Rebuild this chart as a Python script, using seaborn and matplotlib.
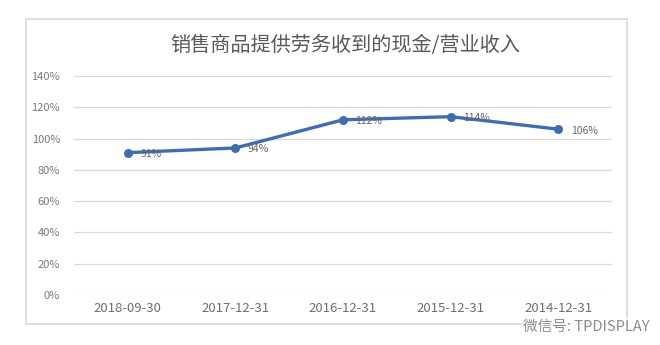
import matplotlib
matplotlib.use("Agg")
import matplotlib.pyplot as plt
import seaborn as sns
import pandas as pd
from matplotlib.patches import Rectangle

categories = ["2018-09-30", "2017-12-31", "2016-12-31", "2015-12-31", "2014-12-31"]
values = [0.91, 0.94, 1.12, 1.14, 1.06]
labels = ["91%", "94%", "112%", "114%", "106%"]
yticks = [0, 0.2, 0.4, 0.6, 0.8, 1.0, 1.2, 1.4]
ytick_labels = ["0%", "20%", "40%", "60%", "80%", "100%", "120%", "140%"]
title = "销售商品提供劳务收到的现金/营业收入"
watermark = "微信号: TPDISPLAY"

sns.set_theme(style="white")
plt.rcParams['font.family'] = ['Noto Sans CJK SC', 'DejaVu Sans']

W, H = 660, 345
fig = plt.figure(figsize=(6.6, 3.45), dpi=100)
ax = fig.add_axes([74 / W, 1 - 295 / H, (612 - 74) / W, (295 - 76) / H])

df = pd.DataFrame({"x": list(range(len(categories))), "y": values})
line_color = "#3F6DB3"
sns.lineplot(data=df, x="x", y="y", ax=ax, color=line_color, linewidth=2.4,
             marker="o", markersize=6.5, markeredgewidth=0, markerfacecolor=line_color)

for xi, yi, lab in zip(df["x"], df["y"], labels):
    ax.annotate(lab, (xi, yi), xytext=(9, -1), textcoords="offset points",
                ha="left", va="center", fontsize=7.5, color="#666666")

ax.set_xlim(-0.5, 4.5)
ax.set_ylim(0, 1.4)
ax.set_yticks(yticks)
ax.set_yticklabels(ytick_labels)
ax.set_xticks(range(len(categories)))
ax.set_xticklabels(categories)
ax.tick_params(axis="y", labelsize=8, colors="#7A7A7A", length=0, pad=10)
ax.tick_params(axis="x", labelsize=9.5, colors="#6E6E6E", length=0, pad=5)
ax.set_xlabel("")
ax.set_ylabel("")
ax.grid(axis="y", color="#D9D9D9", linewidth=0.9)
ax.set_axisbelow(True)
for s in ax.spines.values():
    s.set_visible(False)

# outer chart border
fig.patches.append(Rectangle((26 / W, 1 - 324 / H), (627 - 26) / W, (324 - 19) / H,
                             transform=fig.transFigure, fill=False,
                             edgecolor="#D9D9D9", linewidth=1.2))

fig.text(345 / W, 1 - 45 / H, title, ha="center", va="center",
         fontsize=14.5, color="#595959")

fig.text(650 / W, 1 - 327 / H, watermark, ha="right", va="center",
         fontsize=10.5, color="#8C8C8C",
         bbox=dict(boxstyle="round,pad=0.15", facecolor="white", edgecolor="none", alpha=0.7))

fig.savefig("out.png", dpi=100, facecolor="white")
